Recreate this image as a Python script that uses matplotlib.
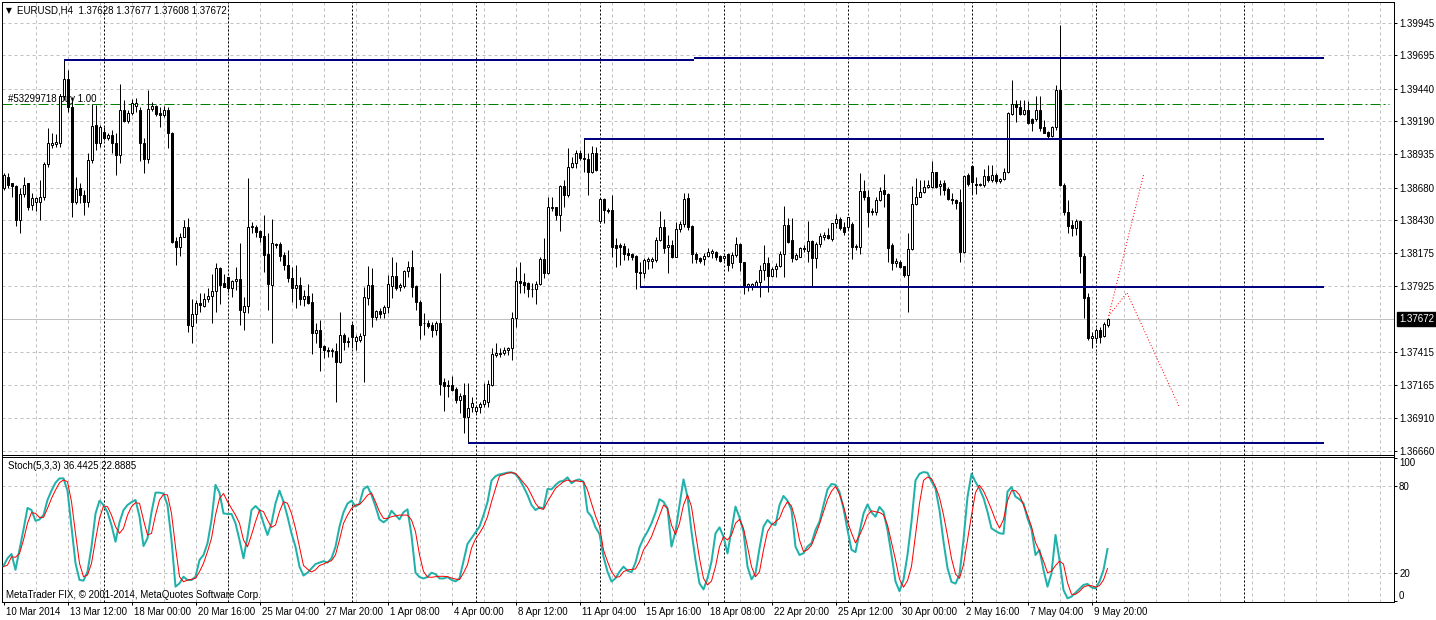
import matplotlib
matplotlib.use("Agg")
import matplotlib.pyplot as plt
import matplotlib.transforms as mtransforms
import numpy as np

plt.rcParams["font.family"] = ["Liberation Sans", "DejaVu Sans"]
plt.rcParams["lines.scale_dashes"] = False

# ---- EURUSD H4 candles (bar 0 = 10 Mar 20:00) ----
OPEN = [
    1.38673, 1.38763, 1.38712, 1.38691, 1.38430, 1.38630, 1.38712, 1.38545, 1.38566, 1.38571,
    1.38604, 1.38860, 1.39006, 1.39013, 1.39024, 1.39384, 1.39512, 1.39300, 1.38571, 1.38673,
    1.38622, 1.38566, 1.38891, 1.39159, 1.39024, 1.39108, 1.39057, 1.39082, 1.39018, 1.38929,
    1.39274, 1.39192, 1.39249, 1.39305, 1.39274, 1.39024, 1.38901, 1.39279, 1.39305, 1.39249,
    1.39233, 1.39274, 1.39095, 1.38272, 1.38220, 1.38302, 1.38374, 1.37617, 1.37706, 1.37796,
    1.37773, 1.37824, 1.37847, 1.37885, 1.38059, 1.37944, 1.37995, 1.37906, 1.37960, 1.37975,
    1.37727, 1.37770, 1.38374, 1.38374, 1.38346, 1.38307, 1.38169, 1.37931, 1.38243, 1.38246,
    1.38162, 1.38085, 1.37988, 1.37906, 1.37931, 1.37824, 1.37850, 1.37801, 1.37560, 1.37586,
    1.37463, 1.37433, 1.37427, 1.37427, 1.37343, 1.37548, 1.37496, 1.37624, 1.37504, 1.37509,
    1.37548, 1.37834, 1.37931, 1.37688, 1.37732, 1.37714, 1.37760, 1.37926, 1.38000, 1.37913,
    1.37924, 1.38039, 1.38072, 1.37924, 1.37803, 1.37642, 1.37642, 1.37624, 1.37586, 1.37637,
    1.37184, 1.37159, 1.37164, 1.37131, 1.37049, 1.37087, 1.36921, 1.36993, 1.36967, 1.36993,
    1.37018, 1.37036, 1.37164, 1.37394, 1.37399, 1.37407, 1.37433, 1.37445, 1.37676, 1.37965,
    1.37952, 1.37944, 1.37901, 1.37901, 1.37936, 1.38131, 1.38021, 1.38520, 1.38527, 1.38469,
    1.38691, 1.38622, 1.38834, 1.38865, 1.38947, 1.38896, 1.38896, 1.38801, 1.38942, 1.38425,
    1.38591, 1.38507, 1.38507, 1.38238, 1.38238, 1.38233, 1.38174, 1.38169, 1.38156, 1.38034,
    1.38026, 1.38118, 1.38118, 1.38123, 1.38277, 1.38379, 1.38220, 1.38238, 1.38149, 1.38358,
    1.38399, 1.38596, 1.38384, 1.38169, 1.38136, 1.38128, 1.38154, 1.38179, 1.38182, 1.38154,
    1.38136, 1.38167, 1.38098, 1.38162, 1.38243, 1.38105, 1.37913, 1.37924, 1.37924, 1.37957,
    1.38046, 1.38098, 1.38003, 1.38052, 1.38080, 1.38169, 1.38392, 1.38277, 1.38131, 1.38149,
    1.38213, 1.38195, 1.38272, 1.38136, 1.38243, 1.38302, 1.38315, 1.38284, 1.38404, 1.38435,
    1.38379, 1.38379, 1.38399, 1.38226, 1.38220, 1.38653, 1.38609, 1.38502, 1.38489, 1.38584,
    1.38660, 1.38630, 1.38238, 1.38098, 1.38110, 1.38077, 1.38008, 1.38205, 1.38553, 1.38609,
    1.38648, 1.38686, 1.38686, 1.38796, 1.38691, 1.38712, 1.38668, 1.38589, 1.38584, 1.38571,
    1.38187, 1.38775, 1.38847, 1.38704, 1.38699, 1.38699, 1.38768, 1.38737, 1.38775, 1.38732,
    1.38742, 1.38796, 1.39244, 1.39318, 1.39295, 1.39244, 1.39274, 1.39203, 1.39203, 1.39274,
    1.39146, 1.39108, 1.39075, 1.39141, 1.39428, 1.38699, 1.38494, 1.38392, 1.38366, 1.38425,
    1.38156, 1.37842, 1.37522, 1.37522, 1.37586, 1.37540, 1.37628,
]
HIGH = [
    1.38788, 1.38788, 1.38717, 1.38699, 1.38673, 1.38763, 1.38717, 1.38635, 1.38609, 1.38737,
    1.38877, 1.39134, 1.39095, 1.39090, 1.39389, 1.39661, 1.39581, 1.39377, 1.38763, 1.38717,
    1.38660, 1.38942, 1.39320, 1.39313, 1.39159, 1.39146, 1.39095, 1.39121, 1.39095, 1.39474,
    1.39351, 1.39274, 1.39359, 1.39364, 1.39300, 1.39057, 1.39428, 1.39338, 1.39313, 1.39295,
    1.39305, 1.39300, 1.39108, 1.38302, 1.38328, 1.38430, 1.38443, 1.37824, 1.37816, 1.37867,
    1.37867, 1.37906, 1.38016, 1.38098, 1.38072, 1.38016, 1.37995, 1.37970, 1.38072, 1.38251,
    1.37842, 1.38750, 1.38417, 1.38392, 1.38353, 1.38469, 1.38328, 1.38438, 1.38256, 1.38261,
    1.38187, 1.38200, 1.38072, 1.38085, 1.37995, 1.37893, 1.37936, 1.37867, 1.37637, 1.37663,
    1.37471, 1.37458, 1.37445, 1.37484, 1.37722, 1.37560, 1.37535, 1.37642, 1.37548, 1.37560,
    1.37919, 1.38077, 1.38059, 1.37739, 1.37752, 1.37778, 1.38008, 1.38149, 1.38110, 1.37944,
    1.38046, 1.38116, 1.38200, 1.37931, 1.37816, 1.37714, 1.37663, 1.37650, 1.37658, 1.38021,
    1.37215, 1.37202, 1.37233, 1.37146, 1.37100, 1.37177, 1.37177, 1.37074, 1.37010, 1.37036,
    1.37177, 1.37202, 1.37445, 1.37484, 1.37445, 1.37458, 1.37458, 1.37727, 1.38072, 1.38110,
    1.38026, 1.37957, 1.37944, 1.37962, 1.38149, 1.38289, 1.38609, 1.38609, 1.38532, 1.38699,
    1.38737, 1.38980, 1.38916, 1.38967, 1.38967, 1.39055, 1.38942, 1.38996, 1.38993, 1.38596,
    1.38596, 1.38520, 1.38622, 1.38289, 1.38251, 1.38251, 1.38213, 1.38179, 1.38162, 1.38110,
    1.38136, 1.38149, 1.38149, 1.38297, 1.38502, 1.38435, 1.38315, 1.38277, 1.38417, 1.38425,
    1.38640, 1.38640, 1.38392, 1.38187, 1.38149, 1.38174, 1.38213, 1.38205, 1.38195, 1.38162,
    1.38162, 1.38174, 1.38187, 1.38302, 1.38251, 1.38110, 1.37949, 1.37949, 1.37970, 1.38085,
    1.38238, 1.38149, 1.38072, 1.38098, 1.38195, 1.38537, 1.38443, 1.38443, 1.38174, 1.38226,
    1.38238, 1.38425, 1.38277, 1.38264, 1.38333, 1.38336, 1.38366, 1.38410, 1.38474, 1.38456,
    1.38417, 1.38456, 1.38417, 1.38246, 1.38793, 1.38737, 1.38660, 1.38520, 1.38609, 1.38686,
    1.38783, 1.38635, 1.38251, 1.38136, 1.38123, 1.38080, 1.38328, 1.38691, 1.38750, 1.38737,
    1.38737, 1.38737, 1.38883, 1.38801, 1.38737, 1.38737, 1.38686, 1.38635, 1.38589, 1.38668,
    1.38775, 1.38788, 1.38852, 1.38763, 1.38712, 1.38819, 1.38852, 1.38852, 1.38788, 1.38750,
    1.38827, 1.39261, 1.39505, 1.39351, 1.39351, 1.39351, 1.39346, 1.39210, 1.39382, 1.39382,
    1.39198, 1.39113, 1.39151, 1.39466, 1.39927, 1.38717, 1.38584, 1.38430, 1.38435, 1.38430,
    1.38174, 1.37867, 1.37573, 1.37599, 1.37612, 1.37650, 1.37677,
]
LOW = [
    1.38660, 1.38673, 1.38609, 1.38384, 1.38328, 1.38609, 1.38507, 1.38507, 1.38502, 1.38430,
    1.38584, 1.38839, 1.38980, 1.38988, 1.38993, 1.39351, 1.39261, 1.38456, 1.38553, 1.38558,
    1.38469, 1.38532, 1.38865, 1.38967, 1.38993, 1.39044, 1.39044, 1.38942, 1.38775, 1.38865,
    1.39185, 1.39172, 1.39236, 1.39261, 1.38885, 1.38788, 1.38865, 1.39269, 1.39231, 1.39141,
    1.39223, 1.38980, 1.38256, 1.38085, 1.38156, 1.38297, 1.37573, 1.37484, 1.37637, 1.37722,
    1.37765, 1.37803, 1.37642, 1.37727, 1.37786, 1.37913, 1.37880, 1.37842, 1.37893, 1.37624,
    1.37586, 1.37714, 1.38328, 1.38297, 1.38264, 1.38034, 1.37739, 1.37484, 1.38213, 1.38118,
    1.38046, 1.37957, 1.37803, 1.37752, 1.37778, 1.37770, 1.37786, 1.37399, 1.37484, 1.37274,
    1.37369, 1.37376, 1.37381, 1.37036, 1.37335, 1.37433, 1.37458, 1.37445, 1.37433, 1.37496,
    1.37190, 1.37778, 1.37612, 1.37663, 1.37676, 1.37676, 1.37714, 1.37829, 1.37893, 1.37888,
    1.37906, 1.37995, 1.37842, 1.37739, 1.37517, 1.37548, 1.37599, 1.37535, 1.37548, 1.37087,
    1.36967, 1.37069, 1.37120, 1.37023, 1.36946, 1.36793, 1.36721, 1.36959, 1.36946, 1.36946,
    1.36993, 1.36998, 1.37156, 1.37381, 1.37381, 1.37394, 1.37394, 1.37356, 1.37612, 1.37867,
    1.37867, 1.37842, 1.37842, 1.37786, 1.37931, 1.37982, 1.38016, 1.38502, 1.38430, 1.38348,
    1.38532, 1.38609, 1.38827, 1.38827, 1.38891, 1.38801, 1.38622, 1.38788, 1.38809, 1.38410,
    1.38410, 1.38481, 1.38149, 1.38072, 1.38085, 1.38123, 1.38123, 1.38123, 1.37898, 1.37914,
    1.37982, 1.38052, 1.38059, 1.38110, 1.38272, 1.38174, 1.38026, 1.38136, 1.38144, 1.38341,
    1.38379, 1.38353, 1.38098, 1.38098, 1.38098, 1.38085, 1.38149, 1.38136, 1.38123, 1.38106,
    1.38118, 1.38041, 1.38059, 1.38149, 1.38041, 1.37862, 1.37888, 1.37893, 1.37913, 1.37837,
    1.37970, 1.37880, 1.37995, 1.37990, 1.38072, 1.37995, 1.38251, 1.38110, 1.38123, 1.38144,
    1.38187, 1.38110, 1.37913, 1.38059, 1.38226, 1.38277, 1.38282, 1.38272, 1.38366, 1.38353,
    1.38315, 1.38353, 1.38128, 1.38200, 1.38169, 1.38584, 1.38379, 1.38469, 1.38469, 1.38579,
    1.38532, 1.38110, 1.38046, 1.38072, 1.38059, 1.37995, 1.37727, 1.38200, 1.38545, 1.38604,
    1.38635, 1.38673, 1.38673, 1.38673, 1.38622, 1.38622, 1.38584, 1.38553, 1.38512, 1.38110,
    1.38174, 1.38691, 1.38630, 1.38627, 1.38691, 1.38686, 1.38724, 1.38724, 1.38717, 1.38712,
    1.38737, 1.38788, 1.39236, 1.39185, 1.39236, 1.39236, 1.39167, 1.39113, 1.39192, 1.39116,
    1.39095, 1.39057, 1.39070, 1.39121, 1.38691, 1.38469, 1.38328, 1.38307, 1.38315, 1.38026,
    1.37676, 1.37509, 1.37445, 1.37484, 1.37484, 1.37530, 1.37608,
]
CLOSE = [
    1.38775, 1.38699, 1.38691, 1.38430, 1.38630, 1.38699, 1.38532, 1.38596, 1.38596, 1.38604,
    1.38860, 1.39018, 1.39024, 1.39026, 1.39384, 1.39512, 1.39300, 1.38571, 1.38668, 1.38622,
    1.38566, 1.38891, 1.39151, 1.39024, 1.39146, 1.39057, 1.39082, 1.39018, 1.38929, 1.39274,
    1.39192, 1.39249, 1.39325, 1.39325, 1.39024, 1.38901, 1.39279, 1.39305, 1.39244, 1.39233,
    1.39274, 1.39095, 1.38264, 1.38220, 1.38302, 1.38374, 1.37624, 1.37706, 1.37791, 1.37775,
    1.37824, 1.37847, 1.37885, 1.38064, 1.37931, 1.37919, 1.37906, 1.37962, 1.37975, 1.37739,
    1.37770, 1.38379, 1.38384, 1.38341, 1.38302, 1.38162, 1.37936, 1.38251, 1.38238, 1.38156,
    1.38085, 1.37988, 1.37906, 1.37931, 1.37824, 1.37847, 1.37796, 1.37560, 1.37586, 1.37458,
    1.37433, 1.37427, 1.37433, 1.37343, 1.37548, 1.37496, 1.37504, 1.37530, 1.37530, 1.37540,
    1.37837, 1.37929, 1.37688, 1.37732, 1.37706, 1.37760, 1.37939, 1.38000, 1.37906, 1.37931,
    1.38039, 1.38072, 1.37919, 1.37798, 1.37624, 1.37637, 1.37617, 1.37586, 1.37637, 1.37172,
    1.37159, 1.37164, 1.37126, 1.37049, 1.37080, 1.36921, 1.36985, 1.37023, 1.36998, 1.37018,
    1.37049, 1.37169, 1.37399, 1.37407, 1.37412, 1.37433, 1.37445, 1.37676, 1.37965, 1.37949,
    1.37929, 1.37901, 1.37903, 1.37936, 1.38131, 1.38026, 1.38527, 1.38532, 1.38469, 1.38691,
    1.38622, 1.38834, 1.38865, 1.38947, 1.38903, 1.38903, 1.38801, 1.38942, 1.38814, 1.38591,
    1.38507, 1.38502, 1.38220, 1.38213, 1.38226, 1.38169, 1.38162, 1.38149, 1.38034, 1.38026,
    1.38123, 1.38131, 1.38128, 1.38277, 1.38379, 1.38213, 1.38238, 1.38149, 1.38358, 1.38399,
    1.38589, 1.38379, 1.38169, 1.38131, 1.38118, 1.38154, 1.38182, 1.38195, 1.38149, 1.38116,
    1.38154, 1.38085, 1.38162, 1.38243, 1.38105, 1.37913, 1.37936, 1.37939, 1.37957, 1.38046,
    1.38103, 1.38003, 1.38052, 1.38080, 1.38169, 1.38392, 1.38264, 1.38136, 1.38162, 1.38213,
    1.38205, 1.38272, 1.38136, 1.38243, 1.38307, 1.38315, 1.38289, 1.38404, 1.38435, 1.38371,
    1.38336, 1.38451, 1.38226, 1.38231, 1.38653, 1.38609, 1.38494, 1.38489, 1.38584, 1.38655,
    1.38630, 1.38213, 1.38098, 1.38118, 1.38072, 1.38008, 1.38205, 1.38553, 1.38609, 1.38648,
    1.38686, 1.38696, 1.38796, 1.38686, 1.38704, 1.38660, 1.38589, 1.38584, 1.38563, 1.38187,
    1.38770, 1.38704, 1.38724, 1.38699, 1.38704, 1.38768, 1.38737, 1.38775, 1.38732, 1.38742,
    1.38796, 1.39249, 1.39318, 1.39295, 1.39241, 1.39274, 1.39172, 1.39172, 1.39274, 1.39139,
    1.39100, 1.39075, 1.39141, 1.39428, 1.38699, 1.38494, 1.38384, 1.38366, 1.38425, 1.38156,
    1.37834, 1.37522, 1.37540, 1.37586, 1.37535, 1.37632, 1.37672,
]

# ---- Stochastic(5,3,3): main (%K) and signal (%D) ----
STOCH_MAIN = [
    24.7, 30, 33, 22, 36, 50, 65, 63.5, 56, 57,
    60, 70.5, 77, 82.5, 85.5, 85.5, 77, 52, 26.5, 15,
    14.5, 20.7, 38, 61, 70, 67, 62, 53, 41.5, 55,
    63.5, 67, 69, 70.5, 59, 38.5, 44, 62, 75.6, 75.6,
    75, 67, 42.7, 10.3, 12.6, 17.2, 14.9, 14.9, 17.2, 28.8,
    32.3, 40.4, 56.6, 81, 75.6, 61.2, 60.8, 60.8, 54.3, 42.7,
    30, 45, 63.5, 66.3, 63.5, 54.3, 46.2, 54.3, 68.2, 77,
    69.3, 59, 47.3, 38, 24.2, 18, 20, 23, 26, 27,
    28, 27, 30, 38, 52, 62, 68, 70, 66, 68,
    78, 80, 74, 66, 57, 55, 57, 63, 60, 57,
    62, 64, 46, 20, 17, 16, 17, 20, 19, 16,
    16, 17, 15, 14, 16, 28, 40, 44, 48, 52,
    60, 69, 84, 87, 88.3, 88.8, 89.5, 89.7, 88.5, 84.8,
    79.7, 74, 67, 63.5, 65.4, 64.7, 78.1, 77.9, 80.9, 83.2,
    83.9, 86.2, 82.1, 84.1, 84.8, 83.2, 62.4, 58.9, 51.5, 46.9,
    31.1, 20.7, 13.8, 16.1, 20.7, 24.2, 21.4, 20.3, 27, 37.6,
    43.9, 48.5, 54.3, 61.7, 71, 69.3, 64.7, 38.1, 48.5, 67,
    84.8, 72.8, 48.5, 28.8, 12.6, 8.4, 16.1, 27.7, 47.3, 51.5,
    45, 33.4, 49.7, 65.9, 58.4, 48.5, 24.2, 15.4, 19.6, 36.9,
    52, 56.6, 53.8, 53.1, 67, 73.3, 70, 63.5, 38.1, 32.3,
    33.6, 38.2, 40.5, 49.7, 55.4, 66.9, 77.9, 81.6, 81.1, 76.1,
    64.6, 49.7, 35.9, 34.3, 48, 61.1, 67.4, 61.9, 58.9, 65.7,
    62.3, 49.7, 32.4, 14, 7.1, 15.2, 32.4, 55.4, 84.1, 88.7,
    89.9, 89.4, 83.4, 78.4, 63.4, 41.6, 23.2, 13.6, 12.4, 18.6,
    42.8, 72.6, 88.7, 83, 78.4, 72, 62.3, 50.8, 49, 47.4,
    47, 76.3, 79.5, 72.8, 71, 68.2, 57.8, 50.1, 32.3, 35.8,
    21.9, 10.3, 19.6, 46.2, 28.8, 8, 2.2, 3.4, 6.1, 8.7,
    11.5, 12.2, 9.8, 9.1, 13.8, 21.9, 36.4425,
]
STOCH_SIGNAL = [
    24.2, 25.3, 31, 30.7, 33.4, 42.7, 54.3, 61.7, 61.2, 58.4,
    58.4, 64.7, 71.6, 77.4, 82.5, 84.4, 83.2, 69.3, 47.3, 26.5,
    17.2, 18.4, 26.5, 42.7, 57.8, 66.3, 65.9, 60, 52, 47.3,
    50.8, 60, 65.9, 68.6, 68.2, 56.6, 46.2, 47.3, 60, 70.5,
    74.4, 74, 61.2, 38, 17.2, 13.7, 14.9, 15.4, 16.1, 20.7,
    26.5, 34.6, 43.9, 60, 71.6, 75, 69.3, 64.7, 60, 54.3,
    42.7, 38, 46.2, 55.4, 63.5, 62.4, 56.6, 51.5, 53.1, 62.4,
    69.3, 68.2, 61.2, 50.8, 38, 25, 22.5, 20.5, 22, 25,
    26, 27.4, 28.3, 32.4, 42.8, 54.3, 60, 64.6, 66.9, 67.4,
    70.3, 73.8, 75.4, 69.2, 62.3, 57.7, 57.7, 58.9, 59.5, 60,
    60, 60, 56.6, 48.5, 32.4, 20.9, 17, 16.8, 17.2, 17.5,
    17.5, 17.2, 16.3, 15.6, 15.2, 19.8, 25.5, 37, 43.4, 47.4,
    52, 58.9, 69.2, 78.4, 87.2, 88.1, 89.2, 89.5, 89, 86,
    82.5, 79.3, 74, 68.2, 64.7, 64, 69.3, 74, 78.6, 80.9,
    83.2, 84.4, 83.4, 83.9, 83.4, 83.2, 77.4, 68.2, 59.4, 52.4,
    35.8, 27.7, 20.7, 16.8, 17.2, 20.7, 21.9, 22.3, 22.6, 27.7,
    35.8, 39.9, 45, 52.4, 60, 67, 64.7, 53.1, 46.6, 54.3,
    67, 74, 65.9, 47.3, 29.9, 16.1, 11.5, 14.2, 24.2, 38.1,
    45, 42.7, 46.2, 54.3, 57.1, 50.8, 38.1, 24.2, 17.2, 20.7,
    35.8, 48.5, 53.1, 55.4, 57.8, 64.7, 69.3, 66.3, 56.6, 42.7,
    34.7, 35.9, 39.1, 46.2, 53.8, 62.3, 70.8, 76.6, 80, 74.5,
    66.2, 55.4, 47.6, 40.7, 46, 52.2, 60, 63, 62.3, 61.8,
    60.2, 53.1, 41.1, 29, 15.6, 9.9, 14.5, 24.4, 46.2, 68,
    84.1, 86.4, 85.3, 79.8, 72.2, 60.2, 45.7, 29.9, 19.1, 16.1,
    25.5, 42.8, 59.8, 75.6, 80.7, 76.8, 70.6, 63.9, 56.6, 51,
    57, 70, 77, 77, 74, 67, 60, 52, 41, 35,
    28, 20, 21, 25, 28, 26, 13, 5, 5, 7,
    10, 11, 11, 10, 11, 15, 22.8885,
]

# ---- axis text ----
TIME_LABELS = ["10 Mar 2014", "13 Mar 12:00", "18 Mar 00:00", "20 Mar 16:00", "25 Mar 04:00",
               "27 Mar 20:00", "1 Apr 08:00", "4 Apr 00:00", "8 Apr 12:00", "11 Apr 04:00",
               "15 Apr 16:00", "18 Apr 08:00", "22 Apr 20:00", "25 Apr 12:00", "30 Apr 00:00",
               "2 May 16:00", "7 May 04:00", "9 May 20:00"]
LABEL_BARS = list(range(0, 273, 16))
PRICE_TICKS = [1.39945, 1.39695, 1.39440, 1.39190, 1.38935, 1.38680, 1.38430, 1.38175,
               1.37925, 1.37415, 1.37165, 1.36910, 1.36660]
WEEK_START_BARS = [25, 56, 87, 118, 149, 180, 211, 242, 273, 310]

# ---- drawn objects: (first bar, last bar, price) ----
LEVEL_LINES = [(15, 172.5, 1.39661), (172.5, 330.1, 1.39672), (145, 330.1, 1.39055),
               (159, 330.1, 1.37914), (116, 330.1, 1.36721)]
ORDER_PRICE = 1.39319
ORDER_END_BAR = 346.4
FORECAST_UP = ([276.3, 285.0], [1.37695, 1.38776])
FORECAST_ZIGZAG = ([276.3, 280.85, 294.0], [1.37695, 1.37873, 1.36993])

W, H = 1436, 620
PX = 0.72  # one pixel in points
GRID_C = "#C0C0C0"
GRID_LS = (0, (3 * PX, 3 * PX))
SEP_LS = (0, (2 * PX, 2 * PX))
FS = 7

fig = plt.figure(figsize=(W / 100, H / 100), dpi=100, facecolor="white")
ax = fig.add_axes([2 / W, 1 - 454.5 / H, 1392 / W, 452.5 / H])
ax2 = fig.add_axes([2 / W, 1 - 602 / H, 1392 / W, 145.5 / H])

bars = np.arange(len(CLOSE))
o, h, l, c = map(np.array, (OPEN, HIGH, LOW, CLOSE))
xmin, xmax = -0.375, 347.625

for a in (ax, ax2):
    a.set_xlim(xmin, xmax)
    for s in a.spines.values():
        s.set_linewidth(PX)
        s.set_color("black")
    a.vlines(np.arange(8, 348, 8), 0, 1, transform=a.get_xaxis_transform(),
             colors=GRID_C, linestyles=GRID_LS, lw=PX, zorder=0)
    a.vlines(WEEK_START_BARS, 0, 1, transform=a.get_xaxis_transform(),
             colors="black", linestyles=SEP_LS, lw=PX, zorder=1)

# ---- price panel ----
ax.set_ylim(1.36631, 1.40104)
ax.hlines(PRICE_TICKS + [1.37670], 0, 1, transform=ax.get_yaxis_transform(),
          colors=GRID_C, linestyles=GRID_LS, lw=PX, zorder=0)
ax.axhline(c[-1], color=GRID_C, lw=PX, zorder=1)

ax.text(xmin + 1.4, ORDER_PRICE, "#53299718 buy 1.00", fontsize=FS, va="bottom",
        ha="left", color="black", zorder=2)
ax.plot([xmin, ORDER_END_BAR], [ORDER_PRICE, ORDER_PRICE], color="#008000", lw=PX,
        dashes=(10 * PX, 3 * PX, 2 * PX, 3 * PX), zorder=2)

up = c >= o
ax.vlines(bars, l, h, colors="black", lw=PX, zorder=3)
ax.bar(bars, c - o, bottom=o, width=0.5, color=np.where(up, "white", "black"),
       edgecolor="black", lw=PX, zorder=4)

for k0, k1, p in LEVEL_LINES:
    ax.plot([k0, k1], [p, p], color="#000080", lw=2 * PX, solid_capstyle="butt", zorder=5)

ax.plot(*FORECAST_UP, color="red", lw=PX, dashes=(1 * PX, 2 * PX), zorder=6)
ax.plot(*FORECAST_ZIGZAG, color="red", lw=PX, dashes=(1 * PX, 2 * PX), zorder=6)

ax.set_xticks([])
ax.yaxis.tick_right()
ax.set_yticks(PRICE_TICKS)
ax.set_yticklabels([f"{p:.5f}" for p in PRICE_TICKS])
ax.tick_params(axis="y", direction="out", length=3 * PX, width=PX, pad=1.5, labelsize=FS)

box_off = mtransforms.ScaledTranslation(5 / 100, 0, fig.dpi_scale_trans)
ax.text(1.0, c[-1], f"{c[-1]:.5f}", fontsize=FS, color="white", ha="left", va="center",
        transform=mtransforms.blended_transform_factory(ax.transAxes, ax.transData) + box_off,
        bbox=dict(facecolor="black", edgecolor="black", pad=1.2), clip_on=False, zorder=10)

fig.text(6 / W, 1 - 10.5 / H, "\u25bc", fontsize=5.5, va="center", ha="left",
         family="DejaVu Sans")
fig.text(17 / W, 1 - 10.5 / H,
         f"EURUSD,H4  {o[-1]:.5f} {h[-1]:.5f} {l[-1]:.5f} {c[-1]:.5f}",
         fontsize=FS, va="center", ha="left")

# ---- stochastic panel ----
ax2.set_ylim(-0.35, 100.7)
ax2.hlines([20, 80], 0, 1, transform=ax2.get_yaxis_transform(), colors=GRID_C,
           linestyles=GRID_LS, lw=PX, zorder=0)
ax2.plot(bars, STOCH_MAIN, color="#20B2AA", lw=2 * PX, zorder=3)
ax2.plot(bars, STOCH_SIGNAL, color="red", lw=PX, zorder=4)

ax2.yaxis.tick_right()
ax2.set_yticks([0, 20, 80, 100])
ax2.set_yticklabels(["0", "20", "80", "100"])
ax2.tick_params(axis="y", direction="out", length=3 * PX, width=PX, pad=1.5, labelsize=FS)
ylabs = ax2.get_yticklabels()
ylabs[0].set_va("bottom")
ylabs[3].set_va("top")

ax2.set_xticks(LABEL_BARS)
ax2.set_xticklabels(TIME_LABELS, ha="left")
ax2.tick_params(axis="x", direction="out", length=3 * PX, width=PX, pad=1.5, labelsize=FS)
lab_off = mtransforms.ScaledTranslation(3 / 100, 0, fig.dpi_scale_trans)
for lab in ax2.get_xticklabels():
    lab.set_transform(lab.get_transform() + lab_off)

ax2.text(0.004, 0.935, f"Stoch(5,3,3) {STOCH_MAIN[-1]:.4f} {STOCH_SIGNAL[-1]:.4f}",
         transform=ax2.transAxes, fontsize=FS, va="center", ha="left", zorder=6)
ax2.text(0.003, 0.05, "MetaTrader FIX, \u00a9 2001-2014, MetaQuotes Software Corp.",
         transform=ax2.transAxes, fontsize=FS, va="center", ha="left", zorder=6)

fig.savefig("out.png", dpi=100, facecolor="white")
